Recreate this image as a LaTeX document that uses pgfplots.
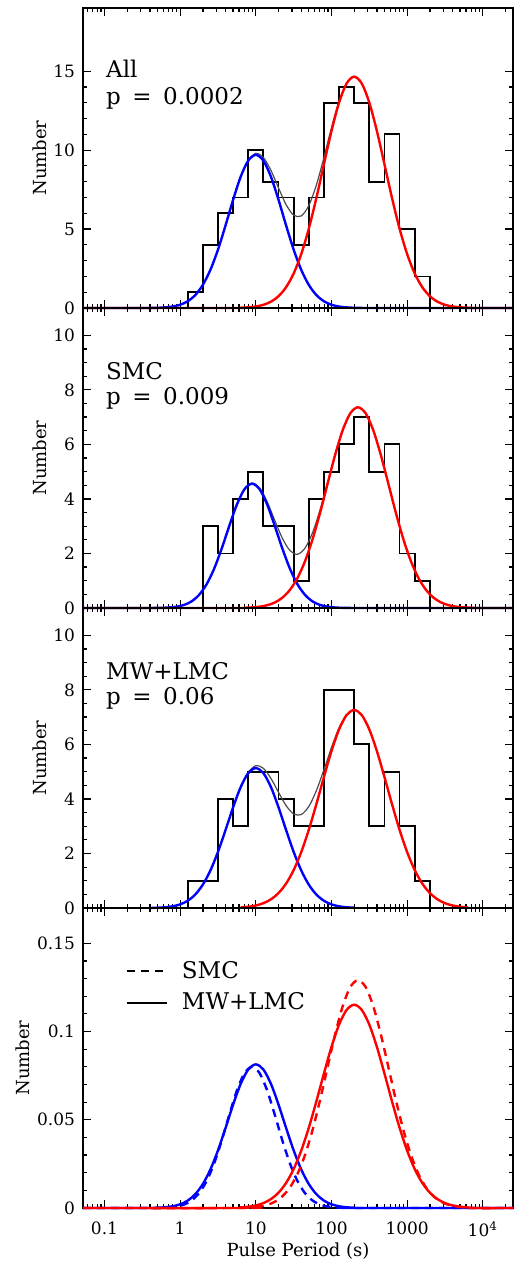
\documentclass[border=0pt]{standalone}
\usepackage{fontspec}
\setmainfont{DejaVu Serif}
\usepackage{pgfplots}
\pgfplotsset{compat=1.18}
\definecolor{cblue}{RGB}{0,0,255}
\definecolor{cred}{RGB}{255,0,0}
\tikzset{lab/.style={anchor=base west, inner sep=0pt, font=\fontsize{11.5}{13}\selectfont}}
\pgfplotsset{
  panel/.style={
    scale only axis, width=215pt, height=150pt,
    xmin=-1.284, xmax=4.399,
    xtick={-1,0,1,2,3,4},
    minor xtick={-1.22185,-1.15490,-1.09691,-1.04576,
      -0.69897,-0.52288,-0.39794,-0.30103,-0.22185,-0.15490,-0.09691,-0.04576,
      0.30103,0.47712,0.60206,0.69897,0.77815,0.84510,0.90309,0.95424,
      1.30103,1.47712,1.60206,1.69897,1.77815,1.84510,1.90309,1.95424,
      2.30103,2.47712,2.60206,2.69897,2.77815,2.84510,2.90309,2.95424,
      3.30103,3.47712,3.60206,3.69897,3.77815,3.84510,3.90309,3.95424,
      4.30103},
    tick align=inside, tick pos=both, ticklabel pos=left,
    major tick length=4pt, minor tick length=2pt,
    tick style={black, line width=0.6pt},
    axis line style={line width=0.75pt},
    tick label style={font=\fontsize{8.5}{10}\selectfont},
    yticklabel style={xshift=-0.5pt},
    xticklabel style={yshift=-3.5pt},
    ylabel={Number},
    ylabel style={font=\fontsize{9}{11}\selectfont, at={(axis description cs:-0.1,0.5)}, anchor=center},
    clip=false, scaled y ticks=false,
  },
  hist/.style={black, line width=0.9pt, const plot, no marks, forget plot},
  fit/.style={line width=1.2pt, no marks, smooth, forget plot},
  sumc/.style={black!70, line width=0.6pt, no marks, smooth, forget plot},
}
\begin{document}
\begin{tikzpicture}
\useasboundingbox (-41.5pt,4pt) rectangle (216.5pt,-626.5pt);
% ---------------- Panel 1: All
\begin{axis}[panel, at={(0,-150pt)}, anchor=south west,
  ymin=0, ymax=19, ytick={0,5,10,15}, yticklabels={0,5,10,15}, minor y tick num=4,
  xticklabels={}]
\addplot[hist] coordinates {(0.1,0) (0.1,1) (0.3,4) (0.5,6) (0.7,7) (0.9,10) (1.1,8) (1.3,7) (1.5,4) (1.7,7) (1.9,13) (2.1,14) (2.3,13) (2.5,8) (2.7,11) (2.9,5) (3.1,2) (3.3,0)};
\addplot[sumc] coordinates {(0.9,9.376) (1.0,9.796) (1.1,9.535) (1.2,8.714) (1.3,7.603) (1.4,6.549) (1.5,5.880) (1.6,5.830) (1.7,6.486) (1.8,7.785) (1.9,9.528) (2.0,11.414) (2.1,13.098) (2.2,14.259)};
\addplot[fit, cblue] coordinates {(-1.284,0) (-0.5,0) (-0.4,0.005) (-0.3,0.014) (-0.2,0.038) (-0.1,0.091) (0.0,0.205) (0.1,0.426) (0.2,0.821) (0.3,1.465) (0.4,2.419) (0.5,3.697) (0.6,5.232) (0.7,6.855) (0.8,8.313) (0.9,9.333) (1.0,9.700) (1.1,9.333) (1.2,8.313) (1.3,6.855) (1.4,5.232) (1.5,3.697) (1.6,2.419) (1.7,1.465) (1.8,0.821) (1.9,0.426) (2.0,0.205) (2.1,0.091) (2.2,0.038) (2.3,0.014) (2.4,0.005) (2.5,0) (4.399,0)};
\addplot[fit, cred] coordinates {(-1.284,0) (0.7,0) (0.8,0.018) (0.9,0.043) (1.0,0.096) (1.1,0.202) (1.2,0.401) (1.3,0.748) (1.4,1.317) (1.5,2.183) (1.6,3.411) (1.7,5.021) (1.8,6.964) (1.9,9.102) (2.0,11.209) (2.1,13.007) (2.2,14.221) (2.3,14.650) (2.4,14.221) (2.5,13.007) (2.6,11.209) (2.7,9.102) (2.8,6.964) (2.9,5.021) (3.0,3.411) (3.1,2.183) (3.2,1.317) (3.3,0.748) (3.4,0.401) (3.5,0.202) (3.6,0.096) (3.7,0.043) (3.8,0.018) (3.9,0) (4.399,0)};
\node[lab] at (axis description cs:0.053,0.767) {All};
\node[lab] at (axis description cs:0.053,0.680) {p\hspace{0.5em}=\hspace{0.5em}0.0002};
\end{axis}
% ---------------- Panel 2: SMC
\begin{axis}[panel, at={(0,-300pt)}, anchor=south west,
  ymin=0, ymax=11, ytick={0,2,4,6,8,10}, yticklabels={0,2,4,6,8,10}, minor y tick num=3,
  xticklabels={}]
\addplot[hist] coordinates {(0.3,0) (0.3,3) (0.5,2) (0.7,4) (0.9,5) (1.1,3) (1.3,3) (1.5,1) (1.7,4) (1.9,5) (2.1,6) (2.3,7) (2.5,5) (2.7,6) (2.9,2) (3.1,1) (3.3,0)};
\addplot[sumc] coordinates {(0.85,4.364) (0.95,4.582) (1.05,4.403) (1.15,3.897) (1.25,3.217) (1.35,2.563) (1.45,2.109) (1.55,1.970) (1.65,2.195) (1.75,2.764) (1.85,3.610) (1.95,4.619) (2.05,5.649) (2.15,6.540) (2.25,7.146)};
\addplot[fit, cblue] coordinates {(-1.284,0) (-0.45,0) (-0.35,0.002) (-0.25,0.006) (-0.15,0.018) (-0.05,0.046) (0.05,0.111) (0.15,0.241) (0.25,0.481) (0.35,0.873) (0.45,1.447) (0.55,2.187) (0.65,3.016) (0.75,3.795) (0.85,4.355) (0.95,4.560) (1.05,4.355) (1.15,3.795) (1.25,3.016) (1.35,2.187) (1.45,1.447) (1.55,0.873) (1.65,0.481) (1.75,0.241) (1.85,0.111) (1.95,0.046) (2.05,0.018) (2.15,0.006) (2.25,0.002) (2.35,0) (4.399,0)};
\addplot[fit, cred] coordinates {(-1.284,0) (0.75,0) (0.85,0.009) (0.95,0.022) (1.05,0.048) (1.15,0.102) (1.25,0.201) (1.35,0.376) (1.45,0.662) (1.55,1.097) (1.65,1.714) (1.75,2.523) (1.85,3.499) (1.95,4.573) (2.05,5.631) (2.15,6.534) (2.25,7.144) (2.35,7.360) (2.45,7.144) (2.55,6.534) (2.65,5.631) (2.75,4.573) (2.85,3.499) (2.95,2.523) (3.05,1.714) (3.15,1.097) (3.25,0.662) (3.35,0.376) (3.45,0.201) (3.55,0.102) (3.65,0.048) (3.75,0.022) (3.85,0.009) (3.95,0) (4.399,0)};
\node[lab] at (axis description cs:0.053,0.762) {SMC};
\node[lab] at (axis description cs:0.053,0.677) {p\hspace{0.5em}=\hspace{0.5em}0.009};
\end{axis}
% ---------------- Panel 3: MW+LMC
\begin{axis}[panel, at={(0,-450pt)}, anchor=south west,
  ymin=0, ymax=11, ytick={0,2,4,6,8,10}, yticklabels={0,2,4,6,8,10}, minor y tick num=3,
  xticklabels={}]
\addplot[hist] coordinates {(0.1,0) (0.1,1) (0.3,1) (0.5,4) (0.7,3) (0.9,5) (1.1,5) (1.3,4) (1.5,3) (1.7,3) (1.9,8) (2.1,8) (2.3,6) (2.5,3) (2.7,5) (2.9,3) (3.1,1) (3.3,0)};
\addplot[sumc] coordinates {(0.9,4.992) (1.0,5.222) (1.1,5.122) (1.2,4.752) (1.3,4.242) (1.4,3.756) (1.5,3.449) (1.6,3.426) (1.7,3.722) (1.8,4.302) (1.9,5.069) (2.0,5.887) (2.1,6.609) (2.2,7.102)};
\addplot[fit, cblue] coordinates {(-0.4,0) (-0.3,0.011) (-0.2,0.027) (-0.1,0.062) (0.0,0.133) (0.1,0.266) (0.2,0.495) (0.3,0.857) (0.4,1.378) (0.5,2.059) (0.6,2.860) (0.7,3.693) (0.8,4.433) (0.9,4.946) (1.0,5.130) (1.1,4.946) (1.2,4.433) (1.3,3.693) (1.4,2.860) (1.5,2.059) (1.6,1.378) (1.7,0.857) (1.8,0.495) (1.9,0.266) (2.0,0.133) (2.1,0.062) (2.2,0.027) (2.3,0.011)};
\addplot[fit, cred] coordinates {(0.8,0.022) (0.9,0.046) (1.0,0.092) (1.1,0.176) (1.2,0.319) (1.3,0.549) (1.4,0.896) (1.5,1.390) (1.6,2.048) (1.7,2.865) (1.8,3.807) (1.9,4.803) (2.0,5.754) (2.1,6.547) (2.2,7.075) (2.3,7.260) (2.4,7.075) (2.5,6.547) (2.6,5.754) (2.7,4.803) (2.8,3.807) (2.9,2.865) (3.0,2.048) (3.1,1.390) (3.2,0.896) (3.3,0.549) (3.4,0.319) (3.5,0.176) (3.6,0.092) (3.7,0.046) (3.8,0.022)};
\node[lab] at (axis description cs:0.053,0.762) {MW+LMC};
\node[lab] at (axis description cs:0.053,0.677) {p\hspace{0.5em}=\hspace{0.5em}0.06};
\end{axis}
% ---------------- Panel 4: normalised
\begin{axis}[panel, at={(0,-600pt)}, anchor=south west,
  ymin=0, ymax=0.17, ytick={0,0.05,0.1,0.15}, yticklabels={0,0.05,0.1,0.15}, minor y tick num=4,
  xticklabels={0.1,1,10,100,1000,10\textsuperscript{4}},
  ylabel style={at={(axis description cs:-0.14,0.5)}},
  xlabel={Pulse Period (s)},
  xlabel style={font=\fontsize{9}{11}\selectfont, at={(axis description cs:0.5,-0.143)}, anchor=center},
  legend style={draw=none, fill=none, at={(axis description cs:0.085,0.85)}, anchor=north west,
    font=\fontsize{11.5}{13}\selectfont, row sep=1.5pt},
  legend cell align=left,
  legend image code/.code={\draw[#1] (0pt,0pt) -- (20pt,0pt); \path (25pt,0pt);}]
\addlegendimage{black, line width=1pt, dash pattern=on 4pt off 3pt}
\addlegendentry{SMC}
\addlegendimage{black, line width=1pt}
\addlegendentry{MW+LMC}
\addplot[fit, cblue, dash pattern=on 4pt off 3pt] coordinates {(-1.284,0) (-0.45,0) (-0.35,0.00003) (-0.25,0.00011) (-0.15,0.00031) (-0.05,0.00081) (0.05,0.00194) (0.15,0.00424) (0.25,0.00843) (0.35,0.01532) (0.45,0.02539) (0.55,0.03838) (0.65,0.05292) (0.75,0.06658) (0.85,0.07641) (0.95,0.0800) (1.05,0.07641) (1.15,0.06658) (1.25,0.05292) (1.35,0.03838) (1.45,0.02539) (1.55,0.01532) (1.65,0.00843) (1.75,0.00424) (1.85,0.00194) (1.95,0.00081) (2.05,0.00031) (2.15,0.00011) (2.25,0) (4.399,0)};
\addplot[fit, cblue] coordinates {(-1.284,0) (-0.4,0) (-0.3,0.00017) (-0.2,0.00042) (-0.1,0.00098) (0.0,0.00211) (0.1,0.00422) (0.2,0.00786) (0.3,0.01360) (0.4,0.02186) (0.5,0.03267) (0.6,0.04538) (0.7,0.05860) (0.8,0.07034) (0.9,0.07848) (1.0,0.0814) (1.1,0.07848) (1.2,0.07034) (1.3,0.05860) (1.4,0.04538) (1.5,0.03267) (1.6,0.02186) (1.7,0.01360) (1.8,0.00786) (1.9,0.00422) (2.0,0.00211) (2.1,0.00098) (2.2,0.00042) (2.3,0.00017) (2.4,0) (4.399,0)};
\addplot[fit, cred, dash pattern=on 4pt off 3pt] coordinates {(-1.284,0) (0.85,0) (0.95,0.00038) (1.05,0.00085) (1.15,0.00178) (1.25,0.00353) (1.35,0.00659) (1.45,0.01160) (1.55,0.01924) (1.65,0.03006) (1.75,0.04425) (1.85,0.06137) (1.95,0.08021) (2.05,0.09877) (2.15,0.11462) (2.25,0.12532) (2.35,0.1291) (2.45,0.12532) (2.55,0.11462) (2.65,0.09877) (2.75,0.08021) (2.85,0.06137) (2.95,0.04425) (3.05,0.03006) (3.15,0.01924) (3.25,0.01160) (3.35,0.00659) (3.45,0.00353) (3.55,0.00178) (3.65,0.00085) (3.75,0.00038) (3.85,0) (4.399,0)};
\addplot[fit, cred] coordinates {(-1.284,0) (0.7,0) (0.8,0.00035) (0.9,0.00073) (1.0,0.00147) (1.1,0.00279) (1.2,0.00506) (1.3,0.00870) (1.4,0.01422) (1.5,0.02206) (1.6,0.03250) (1.7,0.04546) (1.8,0.06040) (1.9,0.07621) (2.0,0.09131) (2.1,0.10389) (2.2,0.11226) (2.3,0.1152) (2.4,0.11226) (2.5,0.10389) (2.6,0.09131) (2.7,0.07621) (2.8,0.06040) (2.9,0.04546) (3.0,0.03250) (3.1,0.02206) (3.2,0.01422) (3.3,0.00870) (3.4,0.00506) (3.5,0.00279) (3.6,0.00147) (3.7,0.00073) (3.8,0.00035) (3.9,0) (4.399,0)};
\end{axis}
\end{tikzpicture}
\end{document}
